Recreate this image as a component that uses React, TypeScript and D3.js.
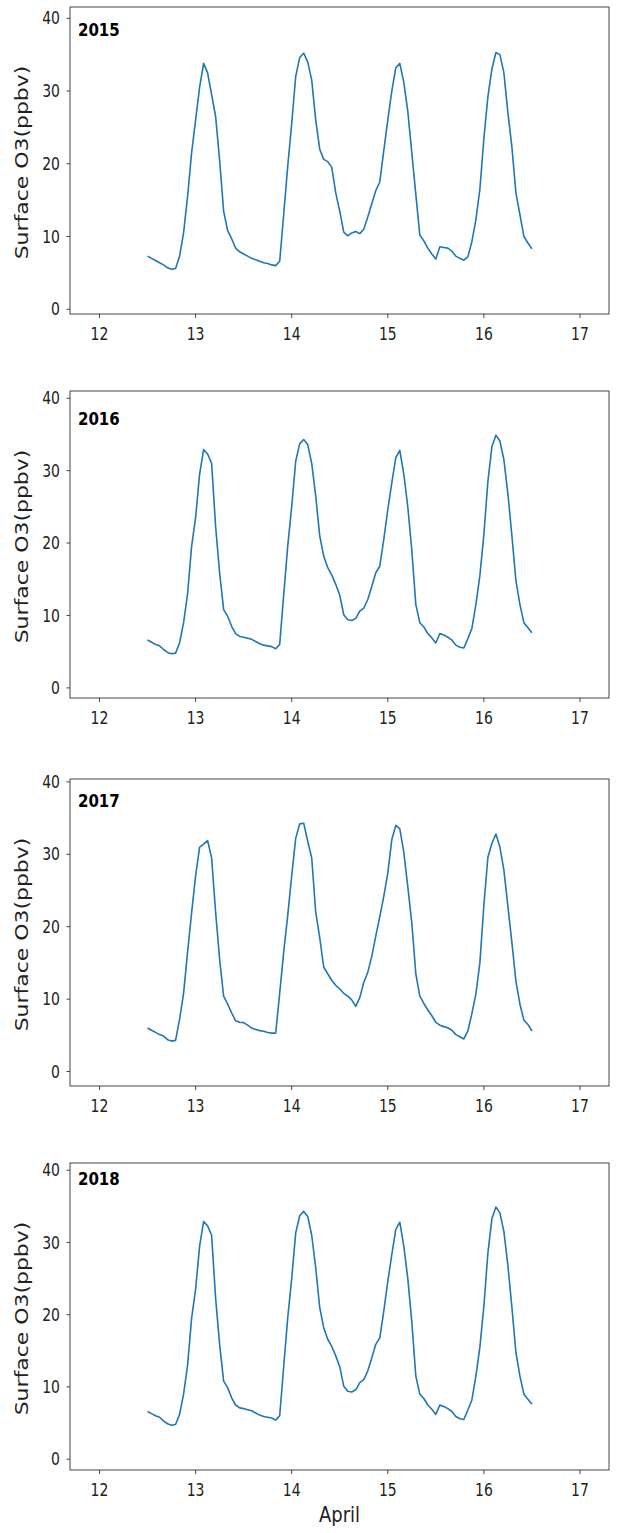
import * as d3 from "d3";
import React from "react";

// hourly surface O3 (ppbv), 12 Apr 12:00 -> 16 Apr 12:00
const o3_2015 = [
  7.3, 7.0, 6.7, 6.4, 6.1, 5.7, 5.5, 5.6, 7.3, 10.5, 15.5, 21.5,
  26.0, 30.5, 33.8, 32.5, 29.5, 26.5, 20.5, 13.5, 10.8, 9.7, 8.4, 7.9,
  7.6, 7.3, 7.0, 6.8, 6.6, 6.4, 6.3, 6.1, 6.0, 6.6, 13.0, 19.6,
  25.5, 32.0, 34.6, 35.2, 34.0, 31.5, 26.0, 22.0, 20.6, 20.3, 19.5, 16.0,
  13.5, 10.6, 10.1, 10.5, 10.7, 10.4, 11.0, 12.7, 14.5, 16.3, 17.5, 21.8,
  26.0, 30.0, 33.2, 33.8, 31.2, 27.2, 21.5, 15.8, 10.2, 9.4, 8.4, 7.6,
  6.9, 8.6, 8.5, 8.4, 8.0, 7.3, 7.0, 6.75, 7.2, 9.3, 12.3, 16.5,
  23.5, 29.2, 33.0, 35.3, 35.0, 32.5, 27.0, 22.3, 16.0, 13.0, 10.0, 9.1,
  8.3,
];

const o3_2016 = [
  6.6, 6.3, 6.0, 5.8, 5.3, 4.9, 4.7, 4.8, 6.2, 9.0, 13.0, 19.5,
  23.5, 29.5, 32.9, 32.3, 31.0, 22.3, 15.9, 10.8, 9.9, 8.5, 7.5, 7.1,
  7.0, 6.85, 6.7, 6.4, 6.1, 5.9, 5.8, 5.7, 5.4, 6.0, 12.8, 19.5,
  25.0, 31.3, 33.7, 34.3, 33.6, 31.0, 26.5, 21.0, 18.2, 16.6, 15.6, 14.3,
  12.8, 10.1, 9.4, 9.3, 9.6, 10.6, 11.0, 12.2, 14.0, 15.9, 16.8, 20.5,
  24.6, 28.3, 31.8, 32.8, 29.5, 25.0, 19.0, 11.5, 9.0, 8.4, 7.5, 6.9,
  6.2, 7.5, 7.3, 7.0, 6.6, 5.9, 5.6, 5.5, 6.8, 8.2, 11.5, 15.5,
  21.2, 28.5, 33.3, 34.9, 34.1, 31.5, 26.8, 21.0, 14.8, 11.5, 9.0, 8.3,
  7.6,
];

const o3_2017 = [
  6.0, 5.7, 5.4, 5.1, 4.9, 4.4, 4.2, 4.3, 7.2, 10.8, 16.5, 21.9,
  27.0, 31.0, 31.4, 31.9, 29.5, 22.0, 15.5, 10.4, 9.3, 8.1, 7.0, 6.8,
  6.75, 6.4, 6.0, 5.8, 5.65, 5.55, 5.4, 5.3, 5.3, 10.8, 16.5, 21.5,
  27.0, 32.2, 34.2, 34.3, 31.8, 29.5, 22.0, 18.5, 14.4, 13.5, 12.6, 11.9,
  11.4, 10.8, 10.4, 9.9, 9.0, 10.2, 12.3, 13.7, 15.9, 18.7, 21.4, 24.2,
  27.4, 32.0, 34.0, 33.5, 30.3, 25.5, 20.5, 13.5, 10.4, 9.4, 8.5, 7.7,
  6.8, 6.4, 6.2, 6.05, 5.7, 5.1, 4.8, 4.5, 5.6, 8.0, 10.7, 15.0,
  23.0, 29.6, 31.5, 32.8, 31.0, 27.8, 22.8, 17.8, 12.5, 9.3, 7.1, 6.5,
  5.6,
];

const o3_2018 = [
  6.6, 6.3, 6.0, 5.8, 5.3, 4.9, 4.7, 4.8, 6.2, 9.0, 13.0, 19.5,
  23.5, 29.5, 32.9, 32.3, 31.0, 22.3, 15.9, 10.8, 9.9, 8.5, 7.5, 7.1,
  7.0, 6.85, 6.7, 6.4, 6.1, 5.9, 5.8, 5.7, 5.4, 6.0, 12.8, 19.5,
  25.0, 31.3, 33.7, 34.3, 33.6, 31.0, 26.5, 21.0, 18.2, 16.6, 15.6, 14.3,
  12.8, 10.1, 9.4, 9.3, 9.6, 10.6, 11.0, 12.2, 14.0, 15.9, 16.8, 20.5,
  24.6, 28.3, 31.8, 32.8, 29.5, 25.0, 19.0, 11.5, 9.0, 8.4, 7.5, 6.9,
  6.2, 7.5, 7.3, 7.0, 6.6, 5.9, 5.6, 5.5, 6.8, 8.2, 11.5, 15.5,
  21.2, 28.5, 33.3, 34.9, 34.1, 31.5, 26.8, 21.0, 14.8, 11.5, 9.0, 8.3,
  7.6,
];

const years = ["2015", "2016", "2017", "2018"];
const xTicks = [12, 13, 14, 15, 16, 17];
const yTicks = [0, 10, 20, 30, 40];
const startDay = 12.5;

const W = 617;
const H = 1533;
const left = 70;
const right = 609;
const plotH = 307;
const stretch = 1.22; // picture is a bit taller than wide
const font = "DejaVu Sans, sans-serif";
const frame = "#444";

const panels = [
  { year: years[0], values: o3_2015, top: 7, yDom: [-0.65, 41.55], labelAt: 37.6 },
  { year: years[1], values: o3_2016, top: 391, yDom: [-1.4, 41.0], labelAt: 36.3 },
  { year: years[2], values: o3_2017, top: 779, yDom: [-2.0, 40.4], labelAt: 36.5 },
  { year: years[3], values: o3_2018, top: 1163, yDom: [-1.5, 41.0], labelAt: 38.0 },
];

const x = d3.scaleLinear().domain([11.693, 17.302]).range([left, right]);

const Panel: React.FC<{ p: (typeof panels)[number]; last: boolean }> = ({ p, last }) => {
  const bottom = p.top + plotH;
  const y = d3.scaleLinear().domain(p.yDom).range([bottom, p.top]);
  const line = d3
    .line<number>()
    .x((_, i) => x(startDay + i / 24))
    .y((d) => y(d));

  return (
    <g>
      <path d={line(p.values) || ""} fill="none" stroke="#1f77b4" strokeWidth={1.6} strokeLinejoin="round" />
      <rect x={left} y={p.top} width={right - left} height={plotH} fill="none" stroke={frame} strokeWidth={1} />

      {yTicks.map((t) => (
        <g key={"y" + t}>
          <line x1={left - 3.5} x2={left} y1={y(t)} y2={y(t)} stroke={frame} />
          <text
            transform={`translate(${left - 10},${y(t)}) scale(1,${stretch})`}
            textAnchor="end"
            dy="0.36em"
            fontFamily={font}
            fontSize={14}
            fill="#222"
          >
            {t}
          </text>
        </g>
      ))}

      {xTicks.map((t) => (
        <g key={"x" + t}>
          <line x1={x(t)} x2={x(t)} y1={bottom} y2={bottom + 4} stroke={frame} />
          <text
            transform={`translate(${x(t)},${bottom + 26}) scale(1,${stretch})`}
            textAnchor="middle"
            fontFamily={font}
            fontSize={14}
            fill="#222"
          >
            {t}
          </text>
        </g>
      ))}

      <text
        transform={`translate(${left + 8},${y(p.labelAt)}) scale(1,${stretch})`}
        fontFamily={font}
        fontWeight="bold"
        fontSize={15}
        fill="#000"
      >
        {p.year}
      </text>

      <text
        transform={`translate(28,${p.top + plotH / 2 + 2}) scale(1,${stretch}) rotate(-90)`}
        textAnchor="middle"
        fontFamily={font}
        fontSize={18}
        fill="#222"
      >
        Surface O3(ppbv)
      </text>

      {last && (
        <text
          transform={`translate(${(left + right) / 2},${bottom + 52}) scale(1,${stretch})`}
          textAnchor="middle"
          fontFamily={font}
          fontSize={18}
          fill="#222"
        >
          April
        </text>
      )}
    </g>
  );
};

export default function App() {
  return (
    <svg
      width={W}
      height={H}
      style={{ position: "absolute", left: 0, top: 0, background: "#fff" }}
    >
      <rect width={W} height={H} fill="#fff" />
      {panels.map((p, i) => (
        <Panel key={p.year} p={p} last={i === panels.length - 1} />
      ))}
    </svg>
  );
}
